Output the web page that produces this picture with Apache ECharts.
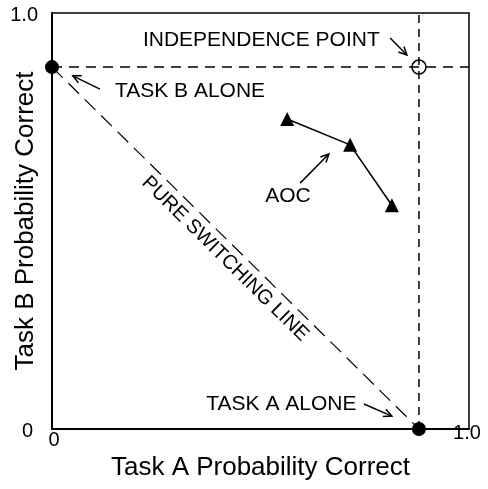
<!DOCTYPE html>
<html>
<head>
<meta charset="utf-8">
<script src="https://cdn.jsdelivr.net/npm/echarts@6/dist/echarts.min.js"></script>
<style>
  html, body { margin: 0; padding: 0; background: #fff; }
  #chart { width: 488px; height: 489px; }
</style>
</head>
<body>
<div id="chart"></div>
<script>
// Single-task operating points (probability correct)
const taskAAlone = 0.88;
const taskBAlone = 0.87;

// Attention operating characteristic (AOC) points
const aocTaskA = [0.564, 0.715, 0.815];
const aocTaskB = [0.745, 0.683, 0.538];

// Axis tick labels
const xTickLabels = ['0', '1.0'];
const yTickLabels = ['0', '1.0'];

const FONT = '"Liberation Sans", Arial, Helvetica, sans-serif';
const INK = '#000';

const chart = echarts.init(document.getElementById('chart'), null, { renderer: 'canvas' });

const aocData = aocTaskA.map((a, i) => [a, aocTaskB[i]]);

const option = {
  animation: false,
  backgroundColor: '#fff',
  grid: {
    left: 52, right: 19, top: 13, bottom: 60,
    containLabel: false, outerBoundsMode: 'none',
    show: true, borderColor: INK, borderWidth: 1.5, backgroundColor: 'transparent'
  },
  xAxis: {
    type: 'value', min: 0, max: 1, interval: 1,
    axisLine: { lineStyle: { color: INK, width: 2 } },
    axisTick: { show: false },
    splitLine: { show: false },
    axisLabel: {
      margin: -6,
      formatter: v => (v === 0 ? '{lo|' + xTickLabels[0] + '}' : '{hi|' + xTickLabels[1] + '}'),
      rich: {
        lo: { fontSize: 20, fontFamily: FONT, color: INK, padding: [7, 0, 0, 4] },
        hi: { fontSize: 20, fontFamily: FONT, color: INK, padding: [0, 4, 0, 0] }
      }
    },
    name: 'Task A Probability Correct',
    nameLocation: 'middle',
    nameGap: 26,
    nameMoveOverlap: false,
    nameTextStyle: { fontSize: 26, fontFamily: FONT, color: INK }
  },
  yAxis: {
    type: 'value', min: 0, max: 1, interval: 1,
    axisLine: { lineStyle: { color: INK, width: 2 } },
    axisTick: { show: false },
    splitLine: { show: false },
    axisLabel: {
      margin: 14,
      formatter: v => (v === 0 ? '{lo|' + yTickLabels[0] + '}' : '{hi|' + yTickLabels[1] + '}'),
      rich: {
        lo: { fontSize: 20, fontFamily: FONT, color: INK, padding: [4, 5, 0, 0] },
        hi: { fontSize: 20, fontFamily: FONT, color: INK, padding: [4, 0, 0, 0] }
      }
    },
    name: 'Task B Probability Correct',
    nameLocation: 'middle',
    nameGap: 13,
    nameMoveOverlap: false,
    nameTextStyle: { fontSize: 26, fontFamily: FONT, color: INK }
  },
  series: [
    { // task B alone level across the plot
      type: 'line', data: [[0, taskBAlone], [1, taskBAlone]],
      symbol: 'none', silent: true,
      lineStyle: { color: INK, width: 1.5, type: [10, 7] }
    },
    { // task A alone level up the plot
      type: 'line', data: [[taskAAlone, 0], [taskAAlone, 1]],
      symbol: 'none', silent: true,
      lineStyle: { color: INK, width: 1.5, type: [8, 6] }
    },
    { // pure switching line
      type: 'line', data: [[0, taskBAlone], [taskAAlone, 0]],
      symbol: 'none', silent: true,
      lineStyle: { color: INK, width: 1.2, type: [15, 8] }
    },
    { // AOC
      type: 'line', data: aocData,
      symbol: 'triangle', symbolSize: 14, clip: false,
      itemStyle: { color: INK, opacity: 1 },
      lineStyle: { color: INK, width: 1.6 }
    },
    { // single-task points
      type: 'scatter', data: [[0, taskBAlone], [taskAAlone, 0]],
      symbol: 'circle', symbolSize: 14, clip: false,
      itemStyle: { color: INK, opacity: 1 }
    },
    { // independence point
      type: 'scatter', data: [[taskAAlone, taskBAlone]],
      symbol: 'circle', symbolSize: 14, clip: false,
      itemStyle: { color: 'rgba(255,255,255,0)', borderColor: INK, borderWidth: 1.5, opacity: 1 }
    }
  ]
};

chart.setOption(option);

// Annotations, anchored in data space
const notes = [
  { text: 'INDEPENDENCE POINT', at: [0.502, 0.935], arrow: [[0.811, 0.940], [0.851, 0.899]] },
  { text: 'TASK B ALONE', at: [0.331, 0.8125], arrow: [[0.115, 0.817], [0.050, 0.849]] },
  { text: 'AOC', at: [0.566, 0.560], arrow: [[0.595, 0.591], [0.664, 0.661]] },
  { text: 'TASK A ALONE', at: [0.550, 0.060], arrow: [[0.748, 0.060], [0.815, 0.031]] }
];

const toPx = p => chart.convertToPixel({ gridIndex: 0 }, p);

function arrowElements(from, to) {
  const a = toPx(from), b = toPx(to);
  const ang = Math.atan2(b[1] - a[1], b[0] - a[0]);
  const len = 9, spread = 0.45;
  const h1 = [b[0] - len * Math.cos(ang - spread), b[1] - len * Math.sin(ang - spread)];
  const h2 = [b[0] - len * Math.cos(ang + spread), b[1] - len * Math.sin(ang + spread)];
  const stroke = { stroke: INK, lineWidth: 1.5, fill: null };
  return [
    { type: 'line', shape: { x1: a[0], y1: a[1], x2: b[0], y2: b[1] }, style: stroke, silent: true },
    { type: 'polyline', shape: { points: [h1, b, h2] }, style: stroke, silent: true }
  ];
}

const graphics = [];
notes.forEach(n => {
  const p = toPx(n.at);
  graphics.push({
    type: 'text', x: p[0], y: p[1], silent: true,
    style: { text: n.text, fontSize: 21, fontFamily: FONT, fill: INK, align: 'center', verticalAlign: 'middle' }
  });
  graphics.push(...arrowElements(n.arrow[0], n.arrow[1]));
});

// label running along the pure switching line
const s0 = toPx([0, taskBAlone]), s1 = toPx([taskAAlone, 0]);
const slope = Math.atan2(s1[1] - s0[1], s1[0] - s0[0]);
const mid = toPx([0.415, 0.409]);
graphics.push({
  type: 'text', x: mid[0], y: mid[1], rotation: -slope, silent: true,
  style: { text: 'PURE SWITCHING LINE', fontSize: 20, fontFamily: FONT, fill: INK, align: 'center', verticalAlign: 'middle' }
});

chart.setOption({ graphic: graphics });
</script>
</body>
</html>
